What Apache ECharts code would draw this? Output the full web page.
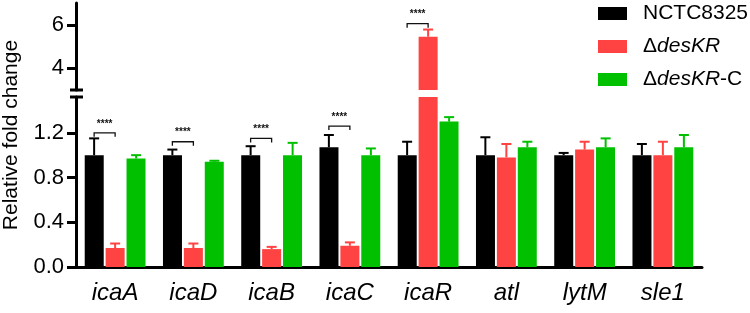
<!DOCTYPE html>
<html>
<head>
<meta charset="utf-8">
<script src="https://cdn.jsdelivr.net/npm/echarts@6/dist/echarts.min.js"></script>
<style>
  html, body { margin: 0; padding: 0; background: #fff; }
  #chart { width: 750px; height: 313px; }
</style>
</head>
<body>
<div id="chart"></div>
<script>
// data
const categories = ['icaA', 'icaD', 'icaB', 'icaC', 'icaR', 'atl', 'lytM', 'sle1'];
const wtMean = [1.0, 1.0, 1.0, 1.07, 1.0, 1.0, 1.0, 1.0];
const wtSd = [0.15, 0.05, 0.08, 0.11, 0.12, 0.16, 0.02, 0.1];
const mutMean = [0.17, 0.17, 0.16, 0.19, 5.45, 0.98, 1.05, 1.0];
const mutSd = [0.04, 0.04, 0.02, 0.03, 0.33, 0.12, 0.07, 0.12];
const compMean = [0.97, 0.94, 1.0, 1.0, 1.3, 1.07, 1.07, 1.07];
const compSd = [0.03, 0.01, 0.11, 0.06, 0.04, 0.05, 0.08, 0.11];
const sigIndex = [0, 1, 2, 3, 4];
const sigLevel = [1.2, 1.12, 1.15, 1.26, 6.05];
const sigText = ['****', '****', '****', '****', '****'];
const lowTicks = [0, 0.4, 0.8, 1.2];
const highTicks = [4, 6];

const FONT = 'Arial, "Liberation Sans", Helvetica, sans-serif';
const BLACK = '#000000', RED = '#FF4242', GREEN = '#00C000';
const LO_MAX = 1.52, UP_MIN = 3, UP_MAX = 7;
const LEFT = 76, RIGHT = 48;
const UP_TOP = 3, UP_H = 87, LO_TOP = 97, LO_H = 170;
const BAR_W = 19, STEP = 21;

const chart = echarts.init(document.getElementById('chart'), null, { renderer: 'canvas' });

// error bars (upper half only), drawn as custom series
function errSeries(mean, sd, color, offset, grid) {
  const data = [];
  mean.forEach((m, i) => {
    const inGrid = grid === 1 ? m < LO_MAX : m >= UP_MIN;
    if (inGrid) data.push([i, m, m + sd[i]]);
  });
  return {
    type: 'custom',
    xAxisIndex: grid, yAxisIndex: grid,
    data: data,
    z: 1,
    renderItem: function (params, api) {
      const p0 = api.coord([api.value(0), api.value(1)]);
      const p1 = api.coord([api.value(0), api.value(2)]);
      const x = p0[0] + offset;
      return {
        type: 'group',
        children: [
          { type: 'line', shape: { x1: x, y1: p0[1], x2: x, y2: p1[1] }, style: { stroke: color, lineWidth: 2 } },
          { type: 'line', shape: { x1: x - 5, y1: p1[1], x2: x + 5, y2: p1[1] }, style: { stroke: color, lineWidth: 2 } }
        ]
      };
    }
  };
}

// significance bracket between the strain and mutant bars
function sigSeries(grid) {
  const data = [];
  const labels = [];
  sigIndex.forEach((c, k) => {
    const v = sigLevel[k];
    const inGrid = grid === 1 ? v < LO_MAX : v >= UP_MIN;
    if (inGrid) { data.push([c, v]); labels.push(sigText[k]); }
  });
  return {
    type: 'custom',
    xAxisIndex: grid, yAxisIndex: grid,
    data: data,
    z: 3,
    renderItem: function (params, api) {
      const p = api.coord([api.value(0), api.value(1)]);
      const x1 = p[0] - STEP, x2 = p[0], y = p[1];
      return {
        type: 'group',
        children: [
          { type: 'polyline', shape: { points: [[x1, y + 4], [x1, y], [x2, y], [x2, y + 4]] },
            style: { stroke: '#111', lineWidth: 1.3, fill: null } },
          { type: 'text', x: (x1 + x2) / 2, y: y - 9,
            style: { text: labels[params.dataIndex], fontSize: 10, fontWeight: 'bold', fontFamily: FONT,
                     fill: '#111', align: 'center', verticalAlign: 'middle' } }
        ]
      };
    }
  };
}

const axisLine = { show: true, onZero: false, lineStyle: { color: BLACK, width: 3 } };
const yLabel = { color: BLACK, fontSize: 22, fontFamily: FONT, margin: 12 };
const yTick = { show: true, length: 9, lineStyle: { color: BLACK, width: 3 } };

const option = {
  animation: false,
  backgroundColor: '#fff',
  grid: [
    { left: LEFT, right: RIGHT, top: UP_TOP, height: UP_H },
    { left: LEFT, right: RIGHT, top: LO_TOP, height: LO_H }
  ],
  legend: {
    data: ['NCTC8325', 'ΔdesKR', 'ΔdesKR-C'],
    orient: 'vertical',
    left: 598, top: 3, padding: 0,
    icon: 'rect',
    itemWidth: 29, itemHeight: 13, itemGap: 12,
    selectedMode: false,
    formatter: function (name) {
      if (name === 'NCTC8325') return '{n|NCTC8325}';
      if (name === 'ΔdesKR') return '{n|Δ}{i|desKR}';
      return '{n|Δ}{i|desKR}{n|-C}';
    },
    textStyle: {
      color: BLACK, fontSize: 21, fontFamily: FONT, padding: [0, 0, 0, 11],
      rich: {
        n: { fontSize: 21, fontFamily: FONT, color: BLACK, lineHeight: 24 },
        i: { fontSize: 21, fontFamily: FONT, color: BLACK, fontStyle: 'italic', lineHeight: 24 }
      }
    }
  },
  xAxis: [
    { gridIndex: 0, type: 'category', data: categories, show: false },
    {
      gridIndex: 1, type: 'category', data: categories,
      axisLine: { lineStyle: { color: BLACK, width: 3 } },
      axisTick: { alignWithLabel: true, length: 9, lineStyle: { color: BLACK, width: 3 } },
      axisLabel: { color: BLACK, fontSize: 24, fontStyle: 'italic', fontFamily: FONT, margin: 14 }
    }
  ],
  yAxis: [
    {
      gridIndex: 0, type: 'value', min: UP_MIN, max: UP_MAX,
      axisLine: axisLine,
      axisTick: Object.assign({ customValues: highTicks }, yTick),
      axisLabel: Object.assign({ customValues: highTicks }, yLabel),
      splitLine: { show: false }
    },
    {
      gridIndex: 1, type: 'value', min: 0, max: LO_MAX,
      axisLine: axisLine,
      axisTick: Object.assign({ customValues: lowTicks }, yTick),
      axisLabel: Object.assign({ customValues: lowTicks, formatter: v => v.toFixed(1) }, yLabel),
      splitLine: { show: false }
    }
  ],
  graphic: [
    { type: 'text', x: 11, y: 135, rotation: Math.PI / 2,
      style: { text: 'Relative fold change', fontSize: 21, fontFamily: FONT, fill: BLACK,
               align: 'center', verticalAlign: 'middle' } },
    { type: 'rect', shape: { x: LEFT - 6, y: UP_TOP + UP_H - 1.5, width: 13, height: 3 }, style: { fill: BLACK } },
    { type: 'rect', shape: { x: LEFT - 6, y: LO_TOP - 1.5, width: 13, height: 3 }, style: { fill: BLACK } }
  ],
  series: [
    { name: 'NCTC8325', type: 'bar', xAxisIndex: 1, yAxisIndex: 1, data: wtMean,
      barWidth: BAR_W, barGap: '10%', itemStyle: { color: BLACK }, z: 2 },
    { name: 'ΔdesKR', type: 'bar', xAxisIndex: 1, yAxisIndex: 1, data: mutMean,
      barWidth: BAR_W, barGap: '10%', itemStyle: { color: RED }, z: 2 },
    { name: 'ΔdesKR-C', type: 'bar', xAxisIndex: 1, yAxisIndex: 1, data: compMean,
      barWidth: BAR_W, barGap: '10%', itemStyle: { color: GREEN }, z: 2 },
    { name: 'ΔdesKR', type: 'bar', xAxisIndex: 0, yAxisIndex: 0,
      data: mutMean.map(v => (v >= UP_MIN ? v : '-')),
      barWidth: BAR_W, itemStyle: { color: RED }, z: 2 },
    errSeries(wtMean, wtSd, BLACK, -STEP, 1),
    errSeries(mutMean, mutSd, RED, 0, 1),
    errSeries(compMean, compSd, GREEN, STEP, 1),
    errSeries(mutMean, mutSd, RED, 0, 0),
    sigSeries(1),
    sigSeries(0)
  ]
};

chart.setOption(option);
window.addEventListener('resize', () => chart.resize());
</script>
</body>
</html>
